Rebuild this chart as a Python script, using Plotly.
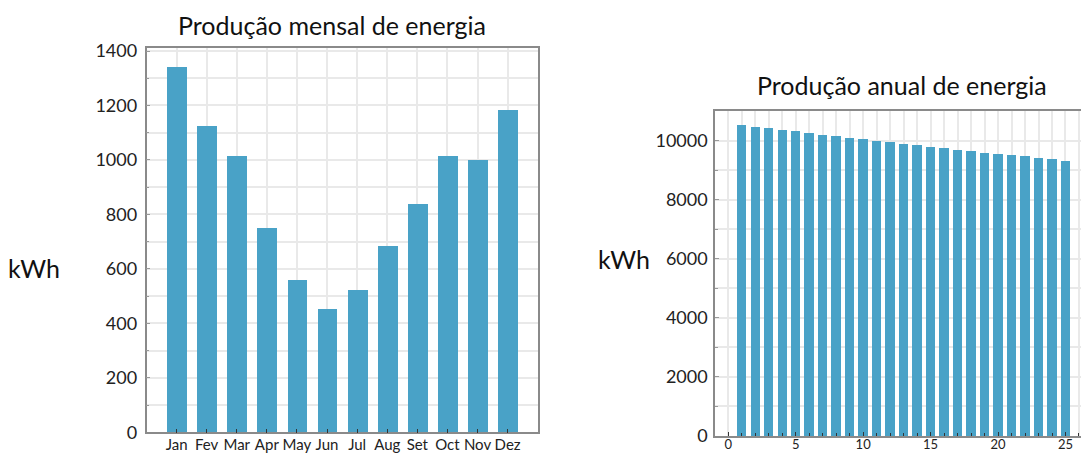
import plotly.graph_objects as go

# Monthly energy production (kWh)
months = ["Jan", "Fev", "Mar", "Apr", "May", "Jun", "Jul", "Aug", "Set", "Oct", "Nov", "Dez"]
monthly_kwh = [1340, 1125, 1015, 748, 557, 451, 522, 684, 836, 1015, 999, 1184]

# Annual energy production over 25 years (kWh)
years = list(range(1, 26))
annual_kwh = [10514, 10457, 10434, 10366, 10331, 10251, 10194, 10149, 10091, 10057,
              10000, 9954, 9886, 9851, 9794, 9760, 9691, 9657, 9589, 9554,
              9520, 9463, 9417, 9360, 9314]

W, H = 1081, 455
BAR = "#49a2c7"
GRID = "#e9e9e9"
FONT = "Lato"
TXT = "#222222"

fig = go.Figure()

fig.add_trace(go.Bar(x=months, y=monthly_kwh, marker_color=BAR, marker_line_width=0,
                     width=0.66, xaxis="x", yaxis="y"))
fig.add_trace(go.Bar(x=years, y=annual_kwh, marker_color=BAR, marker_line_width=0,
                     width=0.7, xaxis="x2", yaxis="y2"))


def px_x(p):
    return p / W


def px_y(p):
    return 1 - p / H


fig.update_layout(
    width=W, height=H,
    margin=dict(l=0, r=0, t=0, b=0),
    paper_bgcolor="white", plot_bgcolor="white",
    showlegend=False,
    font=dict(family=FONT, color=TXT),
    bargap=0,
    xaxis=dict(
        domain=[px_x(146.5), px_x(537.7)],
        type="category", range=[-1, 12],
        showgrid=True, gridcolor=GRID, gridwidth=1.5,
        ticks="inside", ticklen=4, tickcolor="#333",
        showline=True, linecolor="#8a8a8a", linewidth=1.5, mirror=True,
        tickfont=dict(size=15, color=TXT), tickangle=0, ticklabelstandoff=-2,
        anchor="y", automargin=False, zeroline=False,
    ),
    yaxis=dict(
        domain=[px_y(432.3), px_y(48.3)],
        range=[0, 1410], dtick=200,
        showgrid=True, gridcolor=GRID, gridwidth=1.5,
        minor=dict(dtick=100, showgrid=True, gridcolor=GRID, ticks="inside",
                   ticklen=3, tickcolor="#999"),
        ticks="inside", ticklen=4, tickcolor="#999",
        showline=True, linecolor="#8a8a8a", linewidth=1.5, mirror=True,
        tickfont=dict(size=18, color=TXT), ticklabelstandoff=4,
        anchor="x", automargin=False, zeroline=False,
    ),
    xaxis2=dict(
        domain=[px_x(715), 1.0],
        range=[-0.985, 26.15], tickvals=[0, 5, 10, 15, 20, 25],
        showgrid=True, gridcolor=GRID, gridwidth=1.5,
        minor=dict(dtick=1, showgrid=True, gridcolor=GRID, ticks="inside",
                   ticklen=3, tickcolor="#333"),
        ticks="inside", ticklen=4, tickcolor="#333",
        showline=True, linecolor="#8a8a8a", linewidth=1.5, mirror=True,
        tickfont=dict(size=13, color=TXT), tickangle=0, ticklabelstandoff=-4,
        anchor="y2", automargin=False, zeroline=False,
    ),
    yaxis2=dict(
        domain=[px_y(436), px_y(111)],
        range=[0, 11000], dtick=2000, tickformat="d",
        showgrid=True, gridcolor=GRID, gridwidth=1.5,
        minor=dict(dtick=1000, showgrid=True, gridcolor=GRID, ticks="inside",
                   ticklen=3, tickcolor="#999"),
        ticks="inside", ticklen=4, tickcolor="#999",
        showline=True, linecolor="#8a8a8a", linewidth=1.5,
        tickfont=dict(size=18, color=TXT), ticklabelstandoff=2,
        anchor="x2", automargin=False, zeroline=False,
    ),
)

annotations = [
    dict(text="Produção mensal de energia", x=px_x(332), y=px_y(25), size=25),
    dict(text="Produção anual de energia", x=px_x(902), y=px_y(85), size=25),
    dict(text="kWh", x=px_x(34), y=px_y(268), size=25),
    dict(text="kWh", x=px_x(624), y=px_y(259), size=25),
]
for a in annotations:
    fig.add_annotation(text=a["text"], x=a["x"], y=a["y"], xref="paper", yref="paper",
                       showarrow=False, xanchor="center", yanchor="middle",
                       font=dict(family=FONT, size=a["size"], color="#111"))

fig.write_html("out.html")
